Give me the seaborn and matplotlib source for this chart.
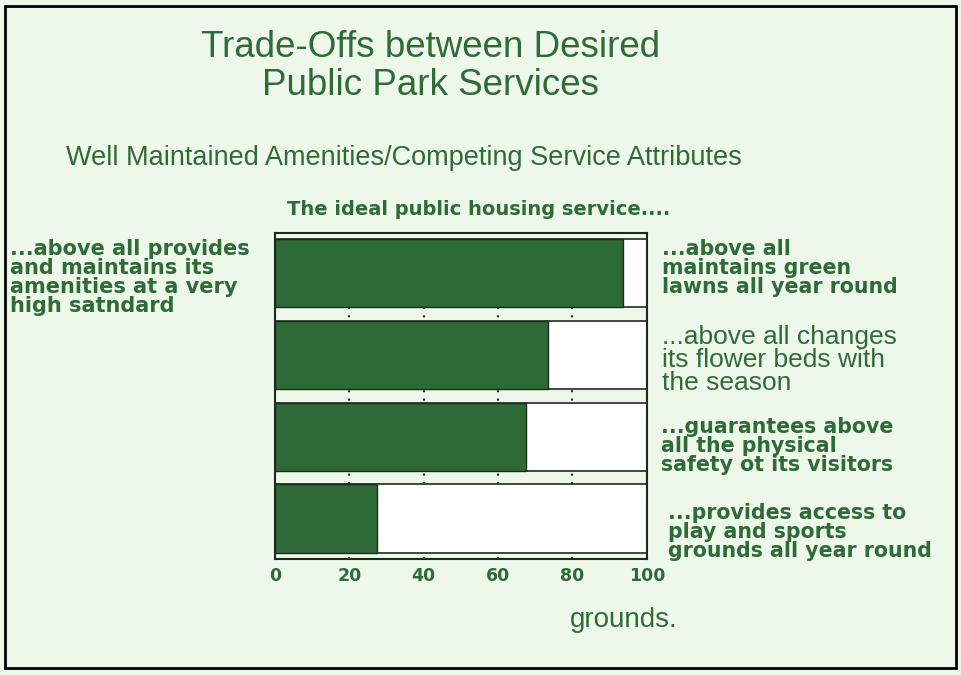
import matplotlib
matplotlib.use("Agg")
import matplotlib.pyplot as plt
import seaborn as sns
import pandas as pd
from matplotlib.patches import Rectangle

categories = ["lawns", "flower beds", "safety", "play grounds"]
amenities_share = [93.5, 73.5, 67.5, 27.5]
total = [100, 100, 100, 100]
xticks = [0, 20, 40, 60, 80, 100]

left_label = "...above all provides\nand maintains its\namenities at a very\nhigh satndard"
right_labels = [
    "...above all\nmaintains green\nlawns all year round",
    "...above all changes\nits flower beds with\nthe season",
    "...guarantees above\nall the physical\nsafety ot its visitors",
    "...provides access to\nplay and sports\ngrounds all year round",
]

BG = "#edf8eb"
GREEN = "#2e6a36"
TXT = "#2f6b38"
EDGE = "#1f2a1f"

sns.set_theme(style="white")
plt.rcParams["font.family"] = ["Liberation Sans", "DejaVu Sans"]

df = pd.DataFrame({"cat": categories, "val": amenities_share, "tot": total})

fig = plt.figure(figsize=(9.62, 6.75), dpi=100, facecolor=BG)
ax = fig.add_axes([0.2859, 0.1719, 0.3864, 0.4830])
ax.set_facecolor(BG)

ax.grid(axis="x", color=EDGE, linestyle=(0, (1, 3)), linewidth=1.5, zorder=0)
ax.set_axisbelow(True)
sns.barplot(data=df, y="cat", x="tot", orient="h", color="white", edgecolor=EDGE,
            linewidth=1.2, width=0.84, ax=ax, zorder=2)
sns.barplot(data=df, y="cat", x="val", orient="h", color=GREEN, saturation=1,
            edgecolor=EDGE, linewidth=1.0, width=0.84, ax=ax, zorder=3)

ax.set_xlim(0, 100)
ax.set_ylim(3.49, -0.49)
ax.set_xticks(xticks)
ax.set_xticklabels([str(t) for t in xticks], fontsize=12.5, fontweight="bold",
                   color=TXT, family=["DejaVu Sans"])
ax.tick_params(axis="x", length=0, pad=6)
ax.set_yticks([])
ax.set_xlabel("")
ax.set_ylabel("")
for s in ax.spines.values():
    s.set_visible(True)
    s.set_color(EDGE)
    s.set_linewidth(1.5)

# outer border
fig.patches.append(Rectangle((5 / 962, 7 / 675), 951 / 962, 662 / 675, transform=fig.transFigure,
                             fill=False, edgecolor="black", linewidth=2))

fig.text(0.448, 0.901, "Trade-Offs between Desired\nPublic Park Services", ha="center", va="center",
         fontsize=26.5, color=TXT, linespacing=1.12)
fig.text(0.4195, 0.766, "Well Maintained Amenities/Competing Service Attributes", ha="center",
         va="center", fontsize=19.5, color=TXT)
fig.text(0.498, 0.690, "The ideal public housing service....", ha="center", va="center",
         fontsize=14, fontweight="bold", color=TXT, family=["DejaVu Sans"])

fig.text(10 / 962, 1 - 239 / 675, left_label, ha="left", va="top", fontsize=15,
         fontweight="bold", color=TXT, family=["DejaVu Sans"], linespacing=0.93)

right_pos = [(662, 239), (662, 325), (661, 417), (668, 503)]
for i, (lab, (px, py)) in enumerate(zip(right_labels, right_pos)):
    if i == 1:
        fig.text(px / 962, 1 - py / 675, lab, ha="left", va="top", fontsize=19,
                 color=TXT, linespacing=0.95)
    else:
        fig.text(px / 962, 1 - py / 675, lab, ha="left", va="top", fontsize=14.8,
                 fontweight="bold", color=TXT, family=["DejaVu Sans"], linespacing=0.93)

fig.text(0.6486, 0.081, "grounds.", ha="center", va="center", fontsize=20, color=TXT)

fig.savefig("out.png", dpi=100, facecolor=BG)
